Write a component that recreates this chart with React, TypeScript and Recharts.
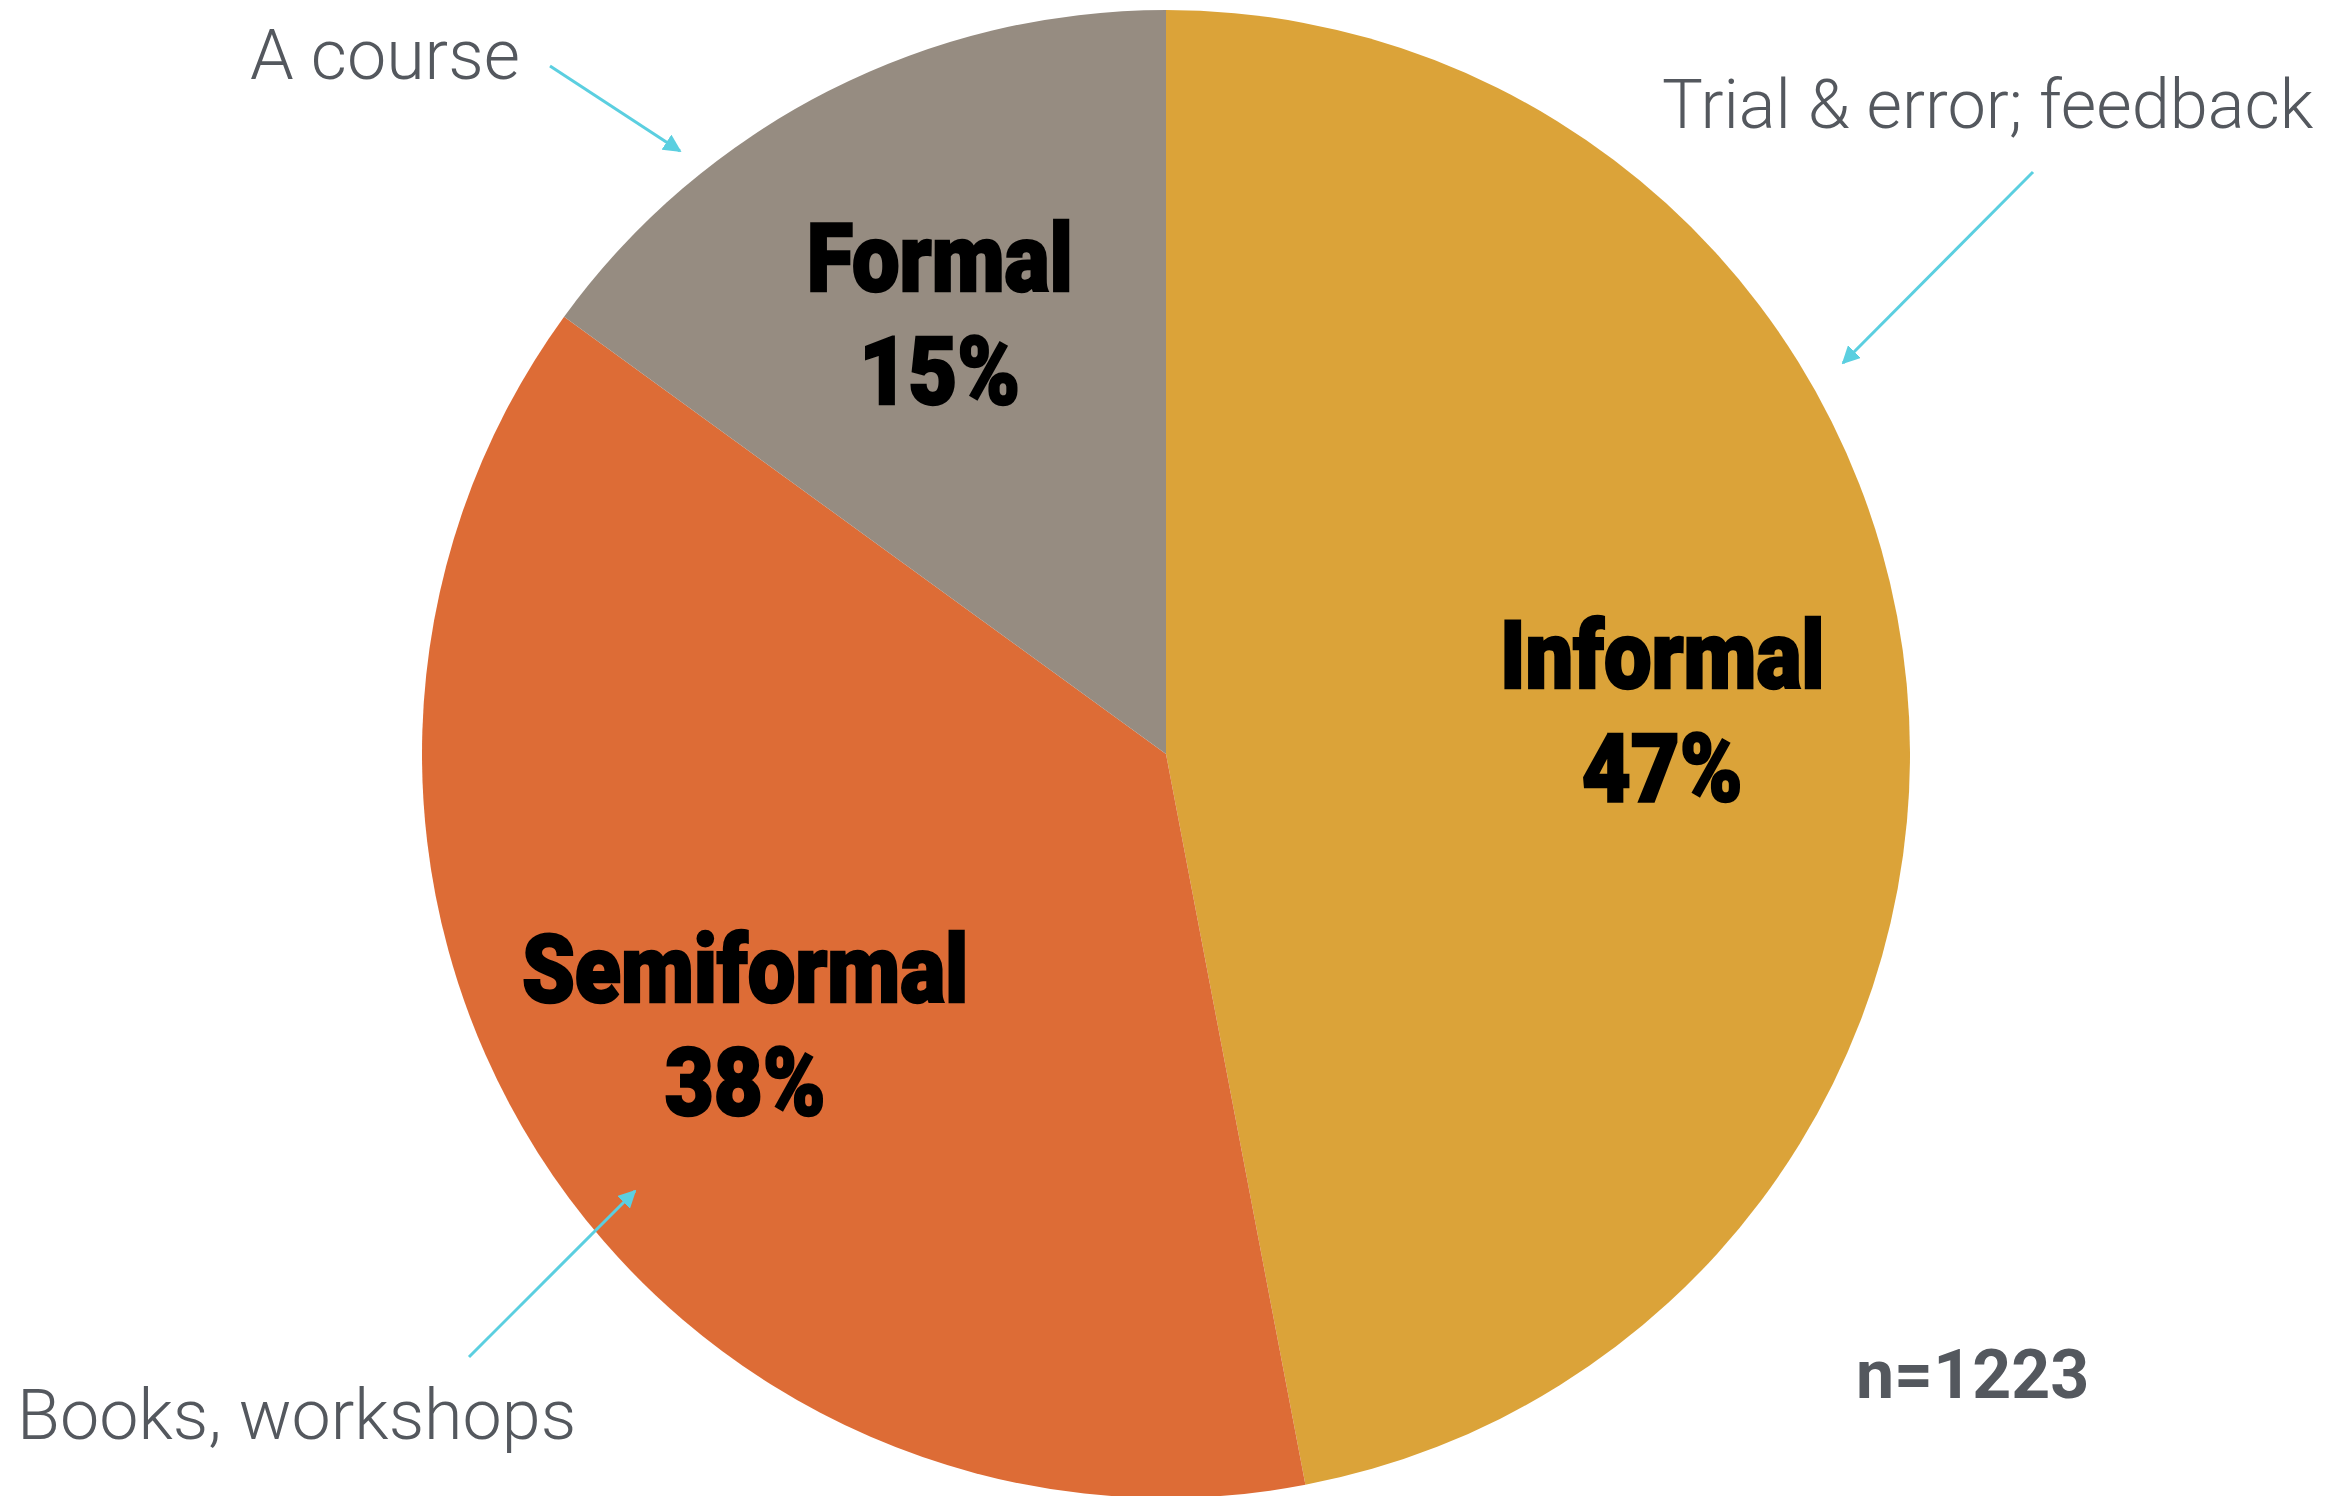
import React from 'react';
import { PieChart, Pie, Cell } from 'recharts';

const CATEGORIES = ['Informal', 'Semiformal', 'Formal'];
const SHARES = [47, 38, 15];
const COLORS = ['#DBA339', '#DD6C36', '#968C81'];
const SAMPLE_NOTE = 'n=1223';

const DATA = CATEGORIES.map((name, i) => ({ name, value: SHARES[i] }));

const W = 2349;
const H = 1496;
const RAD = Math.PI / 180;
const LABEL_FONT = 'Roboto, "DejaVu Sans Condensed", sans-serif';
const NOTE_FONT = 'Roboto, "Liberation Sans", sans-serif';

// bold condensed label placed along the slice's mid angle
const renderLabel = (props: any) => {
  const { cx, cy, midAngle, outerRadius, name, value } = props;
  const r = outerRadius * 0.67;
  const x = cx + r * Math.cos(-midAngle * RAD);
  const y = cy + r * Math.sin(-midAngle * RAD);
  const textProps = {
    textAnchor: 'middle' as const,
    fill: '#000',
    stroke: '#000',
    strokeWidth: 2.5,
    fontFamily: LABEL_FONT,
    fontWeight: 900,
    fontSize: 94,
  };
  return (
    <g transform={`translate(${x},${y}) scale(0.9,1)`}>
      <text x={0} y={-19} {...textProps}>
        {name}
      </text>
      <text x={0} y={94} {...textProps}>
        {value}%
      </text>
    </g>
  );
};

// callout notes + arrows, drawn on an overlay so they sit above the slices
const Annotations = () => (
  <svg width={W} height={H} style={{ position: 'absolute', left: 0, top: 0, pointerEvents: 'none' }}>
    <defs>
      <marker id="arrowHead" viewBox="0 0 10 10" refX="9" refY="5" markerWidth="6" markerHeight="6" orient="auto">
        <path d="M0,0 L10,5 L0,10 z" fill="#5BCFE0" />
      </marker>
    </defs>
    <text x={250} y={79} fill="#54585E" fontFamily={NOTE_FONT} fontWeight={300} fontSize={70}>A course</text>
    <line x1={550} y1={66} x2={680} y2={151} stroke="#5BCFE0" strokeWidth={3} markerEnd="url(#arrowHead)" />
    <text x={1662} y={128} fill="#54585E" fontFamily={NOTE_FONT} fontWeight={300} fontSize={68.5}>Trial &amp; error; feedback</text>
    <line x1={2033} y1={172} x2={1843} y2={363} stroke="#5BCFE0" strokeWidth={3} markerEnd="url(#arrowHead)" />
    <text x={17} y={1439} fill="#54585E" fontFamily={NOTE_FONT} fontWeight={300} fontSize={70}>Books, workshops</text>
    <line x1={469} y1={1357} x2={635} y2={1191} stroke="#5BCFE0" strokeWidth={3} markerEnd="url(#arrowHead)" />
    <text x={1856} y={1398} fill="#54585E" fontFamily={NOTE_FONT} fontWeight={700} fontSize={68}>{SAMPLE_NOTE}</text>
  </svg>
);

export default function App() {
  return (
    <div style={{ position: 'absolute', left: 0, top: 0, width: W, height: H, background: '#fff' }}>
      <PieChart width={W} height={H} margin={{ top: 0, right: 0, bottom: 0, left: 0 }}>
        <Pie
          data={DATA}
          dataKey="value"
          nameKey="name"
          cx={1166}
          cy={754}
          outerRadius={744}
          startAngle={90}
          endAngle={-270}
          stroke="none"
          label={renderLabel}
          labelLine={false}
          isAnimationActive={false}
        >
          {DATA.map((entry, index) => (
            <Cell key={`cell-${index}`} fill={COLORS[index]} />
          ))}
        </Pie>
      </PieChart>
      <Annotations />
    </div>
  );
}
